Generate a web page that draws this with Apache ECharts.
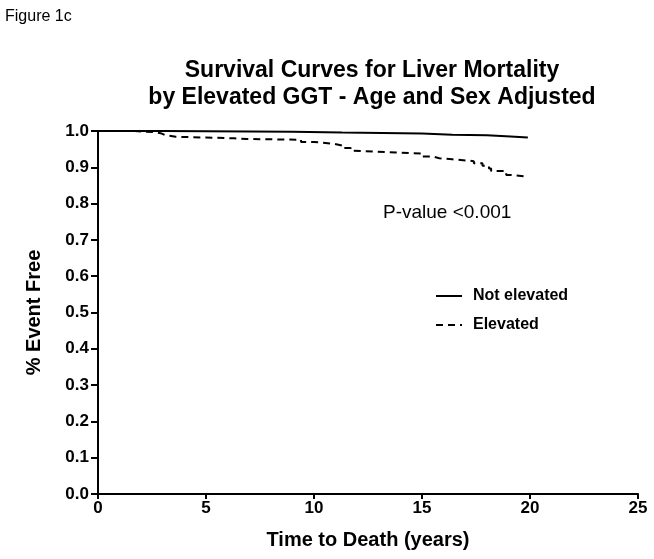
<!DOCTYPE html>
<html><head><meta charset="utf-8">
<script src="https://cdn.jsdelivr.net/npm/echarts@6/dist/echarts.min.js"></script>
<style>html,body{margin:0;padding:0;background:#fff}#c{width:654px;height:559px}</style>
</head><body><div id="c"></div>
<script>
// Kaplan-Meier step data
const notElevatedTime  = [0, 3.0, 9.0, 11.3, 15.0, 16.4, 18.0, 19.1, 19.9];
const notElevatedValue = [1.0, 0.998, 0.996, 0.993, 0.990, 0.988, 0.985, 0.982, 0.982];
const elevatedTime  = [0, 1.7, 2.2, 2.6, 2.9, 3.1, 3.6, 5.0, 6.3, 6.9, 9.4, 10.0, 10.9, 11.3, 11.7, 11.8, 13.8, 15.0, 15.5, 15.8, 16.4, 17.4, 17.8, 18.1, 18.2, 18.9, 19.1, 19.9];
const elevatedValue = [1.0, 0.998, 0.997, 0.994, 0.989, 0.984, 0.982, 0.980, 0.978, 0.976, 0.970, 0.965, 0.960, 0.953, 0.946, 0.941, 0.938, 0.930, 0.925, 0.922, 0.917, 0.911, 0.904, 0.897, 0.890, 0.879, 0.874, 0.874];
const seriesNames = ['Not elevated', 'Elevated'];
const xTicks = [0, 5, 10, 15, 20, 25];
const yTicks = [0, 0.1, 0.2, 0.3, 0.4, 0.5, 0.6, 0.7, 0.8, 0.9, 1.0];

const pair = (t, v) => t.map((x, i) => [x, v[i]]);
const font = 'Liberation Sans, Arial, sans-serif';
const chart = echarts.init(document.getElementById('c'), null, {renderer: 'canvas'});
chart.setOption({
  animation: false,
  backgroundColor: '#fff',
  title: {
    text: 'Survival Curves for Liver Mortality\nby Elevated GGT - Age and Sex Adjusted',
    left: 367, top: 52, textAlign: 'center',
    textStyle: {fontFamily: font, fontSize: 23, fontWeight: 'bold', color: '#000', lineHeight: 27}
  },
  graphic: [
    {type: 'text', left: 5, top: 9, style: {text: 'Figure 1c', font: '16px ' + font, fill: '#000'}},
    {type: 'text', left: 383, top: 203, style: {text: 'P-value <0.001', font: '19px ' + font, fill: '#000'}}
  ],
  legend: {
    orient: 'vertical', left: 430, top: 283, itemWidth: 26, itemHeight: 10, itemGap: 13,
    data: seriesNames,
    itemStyle: {opacity: 0},
    textStyle: {fontFamily: font, fontSize: 16, fontWeight: 'bold', color: '#000', padding: [0, 0, 0, 6]}
  },
  grid: {left: 98, right: 16, top: 131, bottom: 65, containLabel: false, outerBoundsMode: 'none'},
  xAxis: {
    type: 'value', min: 0, max: 25, interval: 5,
    name: 'Time to Death (years)', nameLocation: 'middle', nameGap: 36,
    nameTextStyle: {fontFamily: font, fontSize: 20, fontWeight: 'bold', color: '#000'},
    axisLine: {lineStyle: {color: '#000', width: 2}},
    axisTick: {show: true, length: 5, lineStyle: {color: '#000', width: 2}},
    axisLabel: {fontFamily: font, fontSize: 17, fontWeight: 'bold', color: '#000', margin: 6},
    splitLine: {show: false}
  },
  yAxis: {
    type: 'value', min: 0, max: 1, interval: 0.1,
    name: '% Event Free', nameLocation: 'middle', nameGap: 54, nameRotate: 90,
    nameTextStyle: {fontFamily: font, fontSize: 20, fontWeight: 'bold', color: '#000'},
    axisLine: {show: true, lineStyle: {color: '#000', width: 2}},
    axisTick: {show: true, length: 7, lineStyle: {color: '#000', width: 2}},
    axisLabel: {fontFamily: font, fontSize: 17, fontWeight: 'bold', color: '#000', margin: 9,
      formatter: v => v.toFixed(1)},
    splitLine: {show: false}
  },
  series: [
    {name: seriesNames[0], type: 'line', step: 'end', showSymbol: false, symbol: 'none',
     data: pair(notElevatedTime, notElevatedValue),
     lineStyle: {color: '#000', width: 2}, itemStyle: {color: '#000'}},
    {name: seriesNames[1], type: 'line', step: 'end', showSymbol: false, symbol: 'none',
     data: pair(elevatedTime, elevatedValue),
     lineStyle: {color: '#000', width: 2, type: [7, 5]}, itemStyle: {color: '#000'}}
  ]
});
</script></body></html>
